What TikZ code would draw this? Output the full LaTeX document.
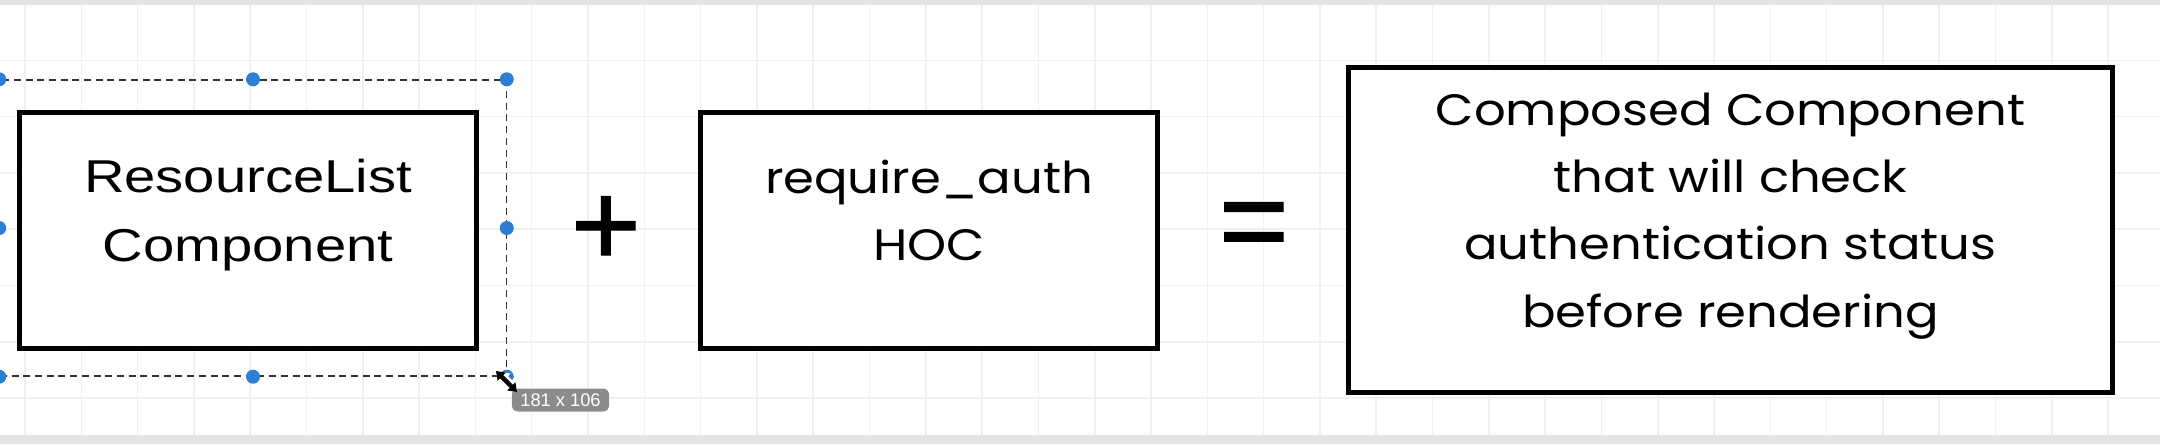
\documentclass[tikz,border=0pt]{standalone}
\usepackage{fontspec}
\setmainfont[FakeStretch=1.13]{Poppins}
\newfontfamily\listfont[FakeStretch=1.22]{Liberation Sans}
\newfontfamily\signfont{Liberation Sans}
\newfontfamily\opfont[FakeBold=1.2]{Liberation Sans}
\usetikzlibrary{arrows.meta}
\definecolor{gridGray}{RGB}{240,240,240}
\definecolor{bandGray}{RGB}{228,228,228}
\definecolor{handleBlue}{RGB}{44,125,212}
\definecolor{tipGray}{RGB}{140,140,140}
\tikzset{
  sketchbox/.style={draw, line width=1.45pt, fill=white, align=center, inner sep=0pt, text depth=11.3pt},
  listtext/.style={font=\listfont\fontsize{13.1}{19.6}\selectfont},
  hoctext/.style={font=\fontsize{12.5}{19.1}\selectfont},
  opsign/.style={font=\opfont\fontsize{34}{34}\selectfont, inner sep=0pt},
  handle/.style={circle, fill=handleBlue, inner sep=0pt, minimum size=0.14cm},
  selbox/.style={draw=black!80, line width=0.35pt, dash pattern=on 0.07cm off 0.047cm, inner sep=0pt},
  tooltip/.style={fill=tipGray, rounded corners=0.06cm, text=white, font=\signfont\fontsize{5.2}{6}\selectfont, minimum width=0.97cm, minimum height=0.23cm, inner sep=0pt},
  gridline/.style={draw=gridGray, line width=0.45pt},
  cursor/.style={{Triangle[length=0.08cm,width=0.11cm]}-{Triangle[length=0.08cm,width=0.11cm]}, line width=1.3pt},
  cursorhalo/.style={{Triangle[length=0.12cm,width=0.16cm]}-{Triangle[length=0.12cm,width=0.16cm]}, line width=2.8pt, white}
}

\begin{document}
\begin{tikzpicture}[x=0.01cm, y=-0.01cm]
  \useasboundingbox (0,0) rectangle (2160,444);
  \fill[white] (0,0) rectangle (2160,444);
  \foreach \gx in {0,...,37} \draw[gridline] ({25+56.3*\gx},0) -- ++(0,444);
  \foreach \gy in {0,...,7} \draw[gridline] (0,{4+56.3*\gy}) -- ++(2160,0);
  \fill[bandGray] (0,0) rectangle (2160,5);
  \fill[bandGray] (0,435) rectangle (2160,444);

  \node[sketchbox, listtext, minimum width=4.57cm, minimum height=2.36cm] (resList) at (248,230.5) {ResourceList\\Component};
  \node[sketchbox, hoctext, minimum width=4.57cm, minimum height=2.36cm] (reqAuth) at (929,230.5) {require\_auth\\HOC};
  \node[sketchbox, hoctext, minimum width=7.64cm, minimum height=3.25cm] (composed) at (1730.5,230) {Composed Component\\that will check\\authentication status\\before rendering};

  \node[opsign] (plusSign) at (606,231) {+};
  \node[opsign] (eqSign) at (1254,232) {=};

  \node[selbox, minimum width=5.06cm, minimum height=2.96cm] (selFrame) at (253,228) {};
  \foreach \anc in {north west,north,north east,west,east,south west,south,south east}
    \node[handle] (hdl \anc) at (selFrame.\anc) {};

  \node[tooltip] (sizeTip) at (560.5,400) {181 x 106};
  \coordinate (curA) at (496,371);
  \coordinate (curB) at (517,392);
  \draw[cursorhalo] (curA) -- (curB);
  \draw[cursor, black] (curA) -- (curB);
\end{tikzpicture}
\end{document}
